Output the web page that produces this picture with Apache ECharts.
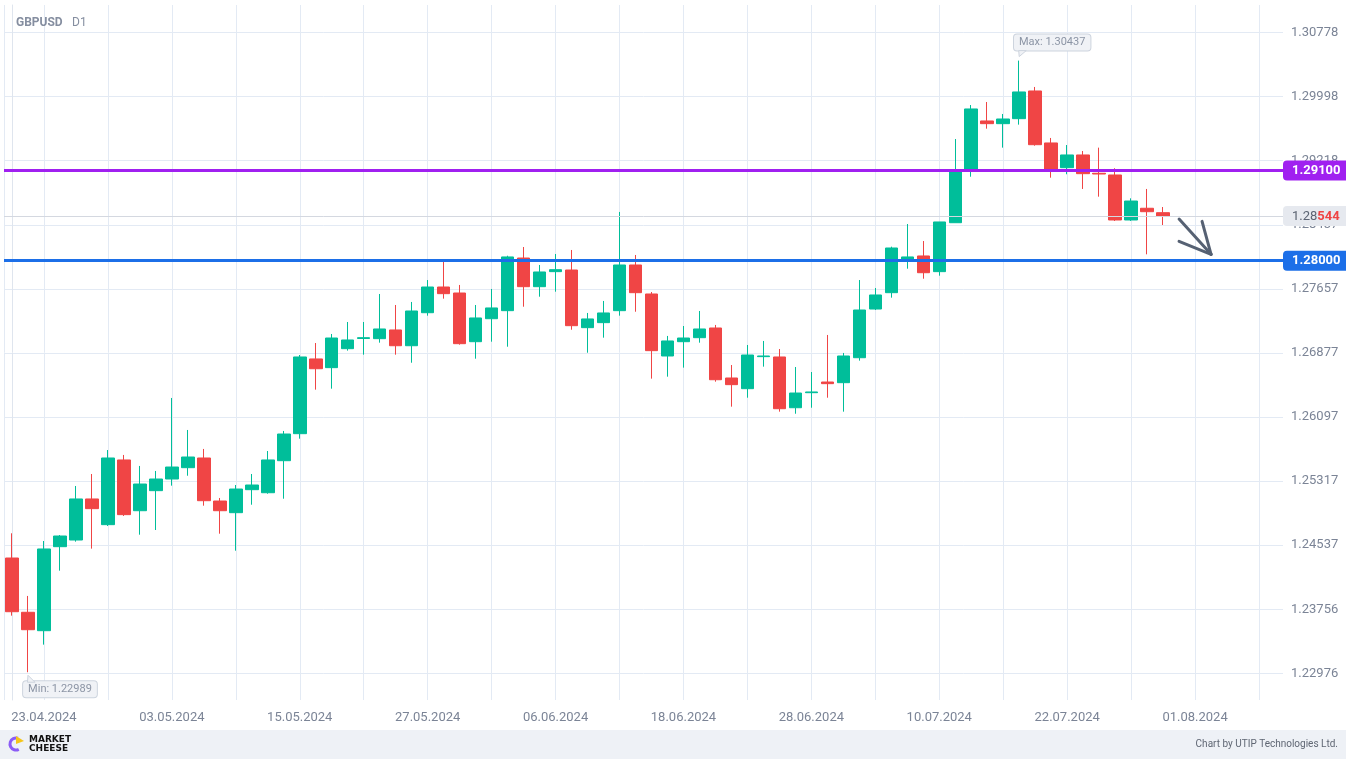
<!DOCTYPE html>
<html>
<head>
<meta charset="utf-8">
<script src="https://cdn.jsdelivr.net/npm/echarts@6/dist/echarts.min.js"></script>
<style>
html,body{margin:0;padding:0;background:#fff;}
#chart{width:1346px;height:759px;}
</style>
</head>
<body>
<div id="chart"></div>
<script>
// ---- DATA ----
const dates = [
 '19.04.2024','22.04.2024','23.04.2024','24.04.2024','25.04.2024','26.04.2024','29.04.2024','30.04.2024',
 '01.05.2024','02.05.2024','03.05.2024','06.05.2024','07.05.2024','08.05.2024','09.05.2024','10.05.2024',
 '13.05.2024','14.05.2024','15.05.2024','16.05.2024','17.05.2024','20.05.2024','21.05.2024','22.05.2024',
 '23.05.2024','24.05.2024','27.05.2024','28.05.2024','29.05.2024','30.05.2024','31.05.2024',
 '03.06.2024','04.06.2024','05.06.2024','06.06.2024','07.06.2024','10.06.2024','11.06.2024','12.06.2024',
 '13.06.2024','14.06.2024','17.06.2024','18.06.2024','19.06.2024','20.06.2024','21.06.2024','24.06.2024',
 '25.06.2024','26.06.2024','27.06.2024','28.06.2024',
 '01.07.2024','02.07.2024','03.07.2024','04.07.2024','05.07.2024','08.07.2024','09.07.2024','10.07.2024',
 '11.07.2024','12.07.2024','15.07.2024','16.07.2024','17.07.2024','18.07.2024','19.07.2024','22.07.2024',
 '23.07.2024','24.07.2024','25.07.2024','26.07.2024','29.07.2024','30.07.2024','31.07.2024',
 '01.08.2024','02.08.2024','05.08.2024','06.08.2024','07.08.2024','08.08.2024'
];
const opens = [
 1.24380,1.23719,1.23495,1.24518,1.24599,1.25099,1.24786,1.25574,1.24956,1.25200,
 1.25342,1.25480,1.25598,1.25074,1.24932,1.25212,1.25175,1.25565,1.25894,1.26804,
 1.26698,1.26929,1.27053,1.27051,1.27157,1.26965,1.27367,1.27680,1.27607,1.27014,
 1.27294,1.27392,1.28033,1.27684,1.27867,1.27887,1.27185,1.27246,1.27392,1.27948,
 1.27595,1.26840,1.27014,1.27063,1.27181,1.26572,1.26442,1.26832,1.26828,1.26210,
 1.26393,1.26523,1.26515,1.26819,1.27412,1.27611,1.28021,1.28058,1.27867,1.28463,
 1.29117,1.29702,1.29669,1.29730,1.30067,1.29434,1.29133,1.29288,1.29065,1.29044,
 1.28496,1.28639,1.28585
];
const closes = [
 1.23726,1.23507,1.24490,1.24648,1.25099,1.24981,1.25598,1.24908,1.25281,1.25342,
 1.25488,1.25610,1.25078,1.24956,1.25220,1.25269,1.25574,1.25890,1.26828,1.26685,
 1.27059,1.27035,1.27063,1.27169,1.26965,1.27388,1.27680,1.27599,1.26990,1.27303,
 1.27425,1.28046,1.27684,1.27863,1.27891,1.27209,1.27291,1.27364,1.27948,1.27611,
 1.26905,1.27023,1.27059,1.27169,1.26551,1.26491,1.26852,1.26840,1.26198,1.26389,
 1.26402,1.26503,1.26840,1.27400,1.27583,1.28155,1.28046,1.27854,1.28472,1.29105,
 1.29848,1.29669,1.29726,1.30055,1.29413,1.29117,1.29288,1.29060,1.29056,1.28496,
 1.28727,1.28597,1.28544
];
const lows = [
 1.23678,1.22989,1.23325,1.24226,1.24579,1.24494,1.24770,1.24892,1.24664,1.24721,
 1.25261,1.25382,1.25017,1.24676,1.24469,1.25029,1.25163,1.25102,1.25833,1.26430,
 1.26442,1.26905,1.26856,1.27002,1.26856,1.26758,1.27331,1.27538,1.26978,1.26807,
 1.27014,1.26953,1.27440,1.27562,1.27623,1.27160,1.26880,1.27063,1.27331,1.27379,
 1.26564,1.26588,1.26698,1.27002,1.26527,1.26223,1.26332,1.26710,1.26162,1.26137,
 1.26210,1.26332,1.26162,1.26783,1.27400,1.27550,1.27903,1.27781,1.27818,1.28463,
 1.29023,1.29608,1.29377,1.29657,1.29401,1.29011,1.29053,1.28874,1.28780,1.28484,
 1.28484,1.28078,1.28435
];
const highs = [
 1.24681,1.23918,1.24587,1.24660,1.25257,1.25403,1.25695,1.25635,1.25501,1.25440,
 1.26329,1.25939,1.25708,1.25111,1.25269,1.25403,1.25683,1.25927,1.26852,1.26998,
 1.27108,1.27254,1.27254,1.27595,1.27461,1.27498,1.27765,1.27988,1.27705,1.27461,
 1.27656,1.28061,1.28167,1.27948,1.28082,1.28131,1.27364,1.27510,1.28594,1.28070,
 1.27619,1.27084,1.27205,1.27388,1.27218,1.26730,1.26974,1.27023,1.26925,1.26706,
 1.26645,1.27096,1.26877,1.27765,1.27668,1.28171,1.28447,1.28240,1.28472,1.29482,
 1.29896,1.29933,1.29787,1.30437,1.30116,1.29495,1.29409,1.29336,1.29377,1.29126,
 1.28760,1.28874,1.28654
];
const yTicks = [1.22976,1.23756,1.24537,1.25317,1.26097,1.26877,1.27657,1.28437,1.29218,1.29998,1.30778];
const levelPurple = 1.29100;
const levelBlue = 1.28000;
const lastPrice = 1.28544;
const maxInfo = {index: 63, value: 1.30437};
const minInfo = {index: 1, value: 1.22989};
const vGridIdx = [-0.5,2,6,10,14,18,22,26,30,34,38,42,46,50,54,58,62,66,70,74,78];

// ---- CHART ----
const UP = '#00be9a', DOWN = '#f04545';
const GRID = '#e3eaf4';
const candleData = opens.map((o, i) => [o, closes[i], lows[i], highs[i]]);
const chart = echarts.init(document.getElementById('chart'), null, {renderer: 'canvas'});

const tagLabel = (bg, fmt) => ({
  position: 'end', distance: 0,
  formatter: fmt,
  color: '#ffffff', fontWeight: 'bold', fontSize: 13, fontFamily: 'Roboto',
  backgroundColor: bg,
  borderRadius: [4, 0, 0, 4],
  padding: [4, 10, 3, 9],
  textBorderWidth: 0
});

const option = {
  animation: false,
  backgroundColor: '#ffffff',
  textStyle: {fontFamily: 'Roboto, "Noto Sans", sans-serif'},
  grid: {left: 4, right: 63, top: 5, bottom: 59, containLabel: false},
  xAxis: [{
    type: 'category',
    data: dates,
    boundaryGap: true,
    axisLine: {show: false},
    axisTick: {show: false},
    splitLine: {show: false},
    axisLabel: {
      color: '#7b8496', fontSize: 13, margin: 11,
      interval: (i) => i >= 2 && (i - 2) % 8 === 0,
      hideOverlap: false
    }
  }, {
    type: 'value',
    min: -0.5, max: dates.length - 0.5,
    position: 'bottom',
    axisLine: {show: false},
    axisLabel: {show: false},
    axisTick: {show: false, customValues: vGridIdx},
    splitLine: {show: true, lineStyle: {color: GRID, width: 1}}
  }],
  yAxis: [{
    type: 'value',
    position: 'right',
    scale: true,
    min: 1.22651,
    max: 1.31114,
    axisLine: {show: true, lineStyle: {color: '#dfe5ee', width: 1}},
    axisTick: {show: false, customValues: yTicks},
    axisLabel: {
      color: '#7b8496', fontSize: 13, margin: 8,
      customValues: yTicks,
      formatter: (v) => v.toFixed(5)
    },
    splitLine: {show: true, lineStyle: {color: GRID, width: 1}}
  }],
  series: [{
    type: 'candlestick',
    data: candleData,
    barWidth: 13,
    itemStyle: {
      color: UP, color0: DOWN,
      borderColor: UP, borderColor0: DOWN,
      borderWidth: 1
    },
    markLine: {
      silent: true,
      precision: 5,
      symbol: ['none', 'none'],
      animation: false,
      data: [
        {
          yAxis: lastPrice,
          lineStyle: {color: '#d4d8e0', width: 1, type: 'solid'},
          label: {
            position: 'end', distance: 0,
            formatter: () => '{a|' + lastPrice.toFixed(5).slice(0, 4) + '}{b|' + lastPrice.toFixed(5).slice(4) + '}',
            backgroundColor: '#e6e9ef',
            borderRadius: [4, 0, 0, 4],
            padding: [4, 10, 3, 9],
            textBorderWidth: 0,
            rich: {
              a: {color: '#5b6372', fontSize: 13, fontFamily: 'Roboto'},
              b: {color: '#ef4444', fontSize: 13, fontWeight: 'bold', fontFamily: 'Roboto'}
            }
          }
        },
        {
          yAxis: levelPurple,
          lineStyle: {color: '#a020f0', width: 3, type: 'solid'},
          label: tagLabel('#a020f0', () => levelPurple.toFixed(5))
        },
        {
          yAxis: levelBlue,
          lineStyle: {color: '#1c6fe8', width: 3, type: 'solid'},
          label: tagLabel('#1c6fe8', () => levelBlue.toFixed(5))
        }
      ]
    },
    markPoint: {
      silent: true,
      symbol: 'circle',
      symbolSize: 0,
      animation: false,
      data: [
        {
          coord: [maxInfo.index, maxInfo.value],
          label: {
            show: true,
            formatter: 'Max: ' + maxInfo.value.toFixed(5),
            offset: [33, -18],
            color: '#8c95a5', fontSize: 11,
            backgroundColor: '#f0f2f6',
            borderColor: '#cdd4de', borderWidth: 1, borderRadius: 3,
            padding: [3, 5, 2, 5], textBorderWidth: 0
          }
        },
        {
          coord: [minInfo.index, minInfo.value],
          label: {
            show: true,
            formatter: 'Min: ' + minInfo.value.toFixed(5),
            offset: [32, 17],
            color: '#8c95a5', fontSize: 11,
            backgroundColor: '#f0f2f6',
            borderColor: '#cdd4de', borderWidth: 1, borderRadius: 3,
            padding: [3, 5, 2, 5], textBorderWidth: 0
          }
        }
      ]
    }
  }]
};
chart.setOption(option);

// decorations: header, footer, tails of min/max tags, annotation arrow
const pMax = chart.convertToPixel({gridIndex: 0}, [maxInfo.index, maxInfo.value]);
const pMin = chart.convertToPixel({gridIndex: 0}, [minInfo.index, minInfo.value]);
const a0 = chart.convertToPixel({gridIndex: 0}, [73, 1.28508]);
const tip = chart.convertToPixel({gridIndex: 0}, [75, 1.28078]);
const arrowStyle = {stroke: '#566173', lineWidth: 3, lineCap: 'round', fill: null};
chart.setOption({
  graphic: [
    {type: 'text', x: 16, y: 17, z: 10, silent: true,
     style: {text: 'GBPUSD', fill: '#858ea0', stroke: null, lineWidth: 0, font: 'bold 12px Roboto'}},
    {type: 'text', x: 72, y: 17, z: 10, silent: true,
     style: {text: 'D1', fill: '#858ea0', stroke: null, lineWidth: 0, font: '12px Roboto'}},
    {type: 'rect', x: 0, y: 730, z: 1, silent: true,
     shape: {width: 1346, height: 29},
     style: {fill: '#eef1f6', stroke: null, lineWidth: 0}},
    {type: 'arc', z: 2, silent: true,
     shape: {cx: 16, cy: 744, r: 6, startAngle: Math.PI * 0.35, endAngle: Math.PI * 1.6},
     style: {stroke: '#8b5cf6', lineWidth: 3, fill: null}},
    {type: 'polygon', z: 2, silent: true,
     shape: {points: [[16, 736], [24, 741], [16, 744]]},
     style: {fill: '#f5c518', stroke: null, lineWidth: 0}},
    {type: 'text', x: 29, y: 735, z: 2, silent: true,
     style: {text: 'MARKET', fill: '#111111', stroke: null, lineWidth: 0, font: '900 9px "DejaVu Sans"'}},
    {type: 'text', x: 29, y: 744, z: 2, silent: true,
     style: {text: 'CHEESE', fill: '#111111', stroke: null, lineWidth: 0, font: '900 9px "DejaVu Sans"'}},
    {type: 'text', x: 1338, y: 739, z: 2, silent: true,
     style: {text: 'Chart by UTIP Technologies Ltd.', fill: '#5f6673', stroke: null, lineWidth: 0, font: '10px Roboto', align: 'right'}},
    {type: 'polygon', z: 20, silent: true,
     shape: {points: [[pMax[0], pMax[1] - 4], [pMax[0] - 0.5, pMax[1] - 10], [pMax[0] + 7, pMax[1] - 10]]},
     style: {fill: '#f0f2f6', stroke: '#cdd4de', lineWidth: 1}},
    {type: 'polygon', z: 20, silent: true,
     shape: {points: [[pMin[0], pMin[1] + 3], [pMin[0] - 0.5, pMin[1] + 10], [pMin[0] + 7, pMin[1] + 10]]},
     style: {fill: '#f0f2f6', stroke: '#cdd4de', lineWidth: 1}},
    {type: 'line', z: 20, silent: true, shape: {x1: a0[0], y1: a0[1], x2: tip[0], y2: tip[1]}, style: arrowStyle},
    {type: 'line', z: 20, silent: true, shape: {x1: tip[0] - 32, y1: tip[1] - 13, x2: tip[0], y2: tip[1]}, style: arrowStyle},
    {type: 'line', z: 20, silent: true, shape: {x1: tip[0] - 9, y1: tip[1] - 33, x2: tip[0], y2: tip[1]}, style: arrowStyle}
  ]
});
</script>
</body>
</html>
